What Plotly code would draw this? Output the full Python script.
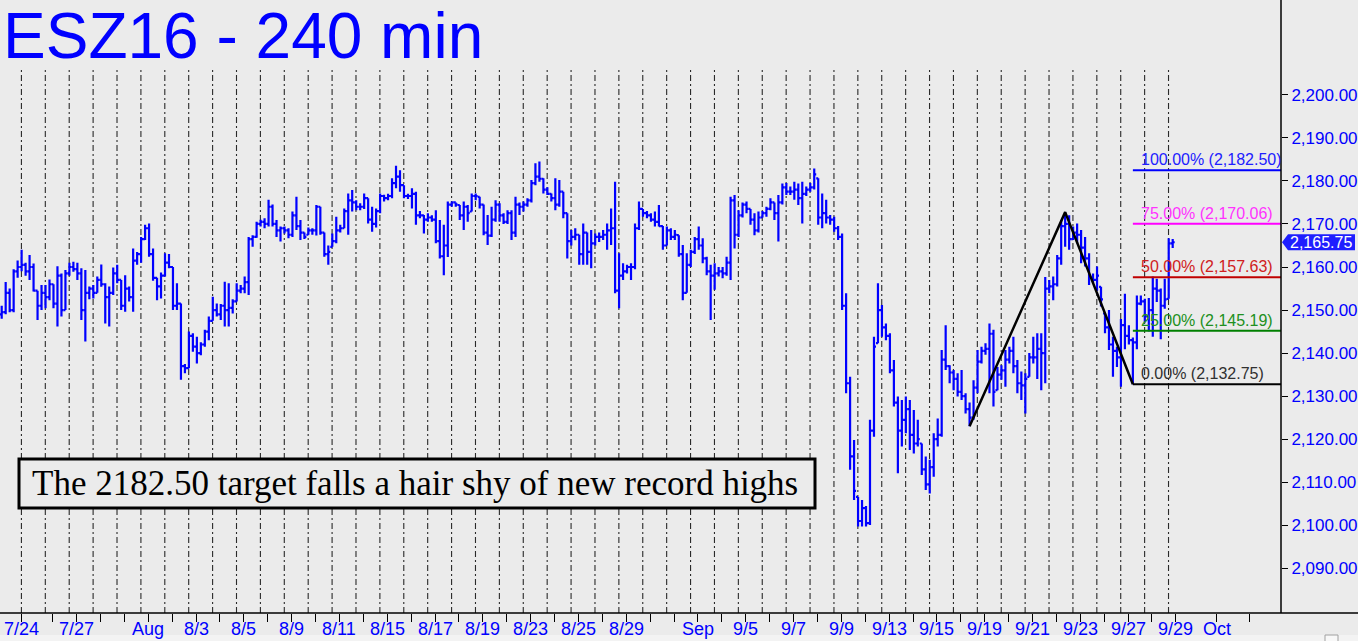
import plotly.graph_objects as go

# ---------------- data (240-min bars) ----------------
opens = [2149.0,2149.5,2154.0,2150.0,2159.0,2160.0,2160.5,2159.0,2160.0,2154.5,
2151.0,2154.0,2153.0,2156.0,2151.5,2158.0,2150.0,2158.5,2160.0,2159.5,
2158.5,2150.0,2154.0,2155.0,2154.0,2157.0,2156.0,2153.0,2154.0,2158.5,
2157.0,2151.0,2155.0,2153.0,2161.5,2163.0,2166.5,2169.0,2163.0,2157.5,
2155.5,2158.0,2161.0,2160.0,2151.0,2151.5,2137.0,2136.5,2144.0,2141.5,
2140.0,2142.0,2145.0,2147.5,2150.0,2149.0,2151.0,2150.0,2150.5,2152.0,
2154.5,2155.0,2156.5,2166.5,2167.0,2170.0,2170.5,2170.0,2174.0,2170.0,
2168.5,2169.0,2168.5,2167.5,2172.0,2169.5,2168.0,2167.5,2168.5,2168.5,
2174.0,2168.0,2163.0,2164.7,2166.0,2168.5,2169.0,2173.0,2175.5,2175.0,
2174.0,2174.0,2176.0,2171.0,2170.0,2173.0,2176.5,2176.0,2176.5,2179.5,
2181.0,2179.0,2176.5,2176.5,2177.0,2172.0,2172.0,2171.0,2171.5,2171.0,
2166.0,2162.5,2165.0,2174.5,2175.0,2174.4,2172.0,2174.0,2172.9,2176.5,
2176.3,2174.5,2168.0,2167.3,2171.0,2174.5,2172.0,2170.5,2172.5,2168.0,
2174.5,2174.0,2174.5,2175.5,2179.5,2181.0,2180.5,2178.0,2177.0,2176.0,
2174.5,2177.5,2172.5,2166.0,2167.0,2167.5,2163.0,2168.0,2163.5,2165.5,
2167.0,2167.0,2167.5,2168.5,2169.0,2154.5,2158.0,2159.0,2160.0,2160.0,
2169.0,2173.5,2172.5,2172.0,2171.0,2170.5,2169.5,2165.0,2168.5,2167.0,
2167.4,2163.0,2154.0,2160.5,2163.5,2166.5,2165.0,2162.0,2159.0,2158.0,
2158.5,2159.0,2158.5,2161.0,2175.5,2167.5,2172.0,2174.5,2173.5,2171.0,
2168.5,2171.5,2172.5,2173.5,2175.0,2172.5,2175.0,2178.5,2177.5,2177.5,
2178.0,2176.0,2177.0,2178.0,2178.5,2180.6,2171.5,2172.5,2171.5,2171.0,
2169.0,2167.0,2151.0,2133.0,2116.0,2106.6,2101.0,2104.0,2100.5,2122.0,
2142.3,2150.0,2146.0,2144.0,2136.0,2128.5,2122.0,2124.5,2127.0,2121.0,
2119.0,2119.0,2113.0,2109.5,2113.5,2120.0,2121.0,2138.5,2137.0,2135.5,
2134.0,2131.0,2130.0,2127.0,2125.0,2132.0,2138.0,2140.5,2141.0,2144.5,
2131.4,2135.0,2136.0,2138.5,2140.5,2137.0,2133.0,2132.5,2134.5,2139.0,
2139.0,2141.0,2140.0,2155.0,2155.5,2156.0,2162.0,2169.5,2170.0,2166.5,
2168.0,2167.5,2164.5,2162.0,2157.5,2157.0,2155.4,2149.2,2146.0,2142.0,
2140.5,2139.0,2146.5,2144.0,2143.0,2142.5,2151.5,2152.0,2148.5,2150.0,
2155.0,2154.5,2151.0,2152.6,2165.5]
highs = [2151.0,2156.5,2155.0,2159.5,2161.5,2164.0,2161.0,2162.8,2160.8,2154.5,
2155.8,2155.8,2157.1,2156.0,2160.2,2158.5,2159.3,2161.0,2161.2,2161.0,
2159.7,2159.3,2155.5,2155.8,2157.8,2160.6,2156.2,2155.5,2159.9,2160.5,
2157.0,2158.1,2155.5,2164.3,2163.5,2167.0,2169.8,2170.1,2164.3,2157.5,
2158.7,2163.2,2163.0,2160.0,2156.2,2151.5,2137.5,2145.0,2144.6,2143.8,
2142.5,2145.4,2148.5,2153.1,2151.5,2151.4,2156.6,2156.2,2152.5,2156.2,
2155.8,2157.8,2167.0,2167.4,2170.5,2171.0,2171.3,2175.6,2174.5,2170.9,
2169.4,2169.4,2169.0,2172.9,2176.3,2170.9,2168.0,2169.2,2169.0,2174.4,
2174.0,2168.0,2165.0,2167.8,2171.7,2169.8,2173.6,2177.1,2177.9,2175.5,
2174.8,2177.1,2176.0,2174.0,2173.6,2177.1,2176.8,2177.0,2180.6,2183.5,
2182.5,2179.0,2177.0,2178.3,2177.5,2173.0,2172.1,2172.5,2172.0,2173.2,
2170.9,2169.8,2175.2,2175.2,2175.0,2174.4,2175.2,2174.4,2177.1,2177.1,
2176.3,2174.5,2172.1,2174.0,2175.5,2174.8,2172.5,2173.2,2173.2,2176.3,
2175.0,2175.2,2176.0,2180.2,2184.1,2184.5,2180.6,2178.5,2177.1,2180.6,
2180.2,2177.5,2172.5,2168.6,2169.0,2167.5,2170.1,2168.0,2168.6,2167.8,
2168.0,2168.6,2170.1,2173.6,2179.8,2163.2,2160.9,2160.5,2160.9,2170.1,
2175.2,2173.5,2173.0,2172.5,2172.9,2174.4,2169.5,2169.4,2169.0,2168.6,
2167.4,2165.1,2163.2,2164.0,2167.0,2169.4,2166.7,2162.4,2160.5,2160.9,
2160.0,2160.0,2162.4,2176.3,2176.7,2173.2,2175.0,2175.2,2173.5,2172.5,
2172.9,2173.0,2174.0,2176.0,2175.0,2176.7,2179.4,2179.5,2178.7,2179.8,
2179.4,2179.8,2178.7,2179.5,2182.9,2180.6,2177.1,2175.6,2172.1,2171.7,
2169.5,2167.8,2153.9,2134.5,2119.8,2106.6,2105.9,2104.5,2124.5,2143.8,
2156.2,2151.2,2146.9,2144.6,2138.4,2129.9,2129.1,2129.9,2129.1,2126.8,
2124.5,2119.0,2116.0,2115.2,2121.4,2124.8,2140.7,2146.5,2137.2,2136.1,
2135.3,2136.1,2130.7,2128.5,2133.7,2140.7,2141.5,2142.3,2146.9,2145.4,
2136.8,2137.2,2140.7,2141.5,2143.8,2138.4,2135.7,2135.3,2140.0,2143.8,
2144.6,2144.6,2157.7,2157.0,2157.8,2162.8,2170.9,2172.75,2172.0,2169.4,
2170.1,2168.6,2167.0,2163.2,2158.5,2160.1,2155.4,2149.2,2150.0,2143.8,
2141.5,2147.9,2153.8,2146.5,2143.6,2153.4,2153.4,2152.6,2152.8,2157.8,
2157.3,2155.0,2157.3,2166.7,2166.5]
lows = [2148.0,2149.0,2149.5,2149.5,2157.5,2159.0,2158.0,2157.0,2154.3,2147.7,
2150.0,2150.4,2152.3,2150.4,2146.2,2148.5,2150.0,2158.0,2158.9,2157.0,
2147.7,2142.7,2152.5,2152.7,2154.0,2155.4,2146.9,2146.2,2153.5,2156.2,
2150.0,2149.6,2152.0,2149.6,2160.5,2161.0,2166.3,2162.4,2156.8,2152.3,
2152.7,2157.8,2159.7,2150.0,2150.0,2133.8,2135.3,2136.5,2140.3,2137.6,
2139.5,2141.5,2143.0,2147.5,2148.5,2147.7,2146.2,2146.2,2149.2,2152.0,
2153.9,2153.9,2153.5,2164.7,2166.8,2169.4,2169.0,2169.4,2169.4,2167.0,
2165.9,2167.8,2166.7,2167.0,2168.6,2166.3,2166.5,2167.5,2167.5,2167.3,
2167.5,2162.4,2160.5,2164.7,2165.5,2168.0,2169.0,2167.5,2172.9,2173.2,
2173.2,2173.5,2170.1,2168.2,2169.2,2172.5,2175.2,2175.5,2176.0,2178.3,
2177.5,2176.0,2175.8,2173.6,2169.8,2171.3,2167.8,2170.5,2170.5,2165.5,
2162.0,2158.1,2162.3,2174.0,2174.0,2170.9,2168.6,2170.5,2172.9,2175.5,
2173.6,2167.4,2165.1,2167.0,2170.5,2170.5,2170.0,2170.0,2166.3,2167.0,
2172.1,2172.9,2174.0,2175.0,2179.0,2179.8,2177.1,2176.7,2175.2,2173.2,
2174.0,2171.3,2162.0,2165.0,2166.2,2160.5,2160.5,2160.5,2159.7,2165.0,
2165.8,2166.3,2164.0,2165.1,2153.9,2150.4,2157.0,2158.5,2157.0,2159.5,
2168.6,2171.7,2171.3,2170.5,2169.4,2169.4,2164.0,2165.0,2166.3,2166.3,
2162.4,2152.3,2154.0,2160.0,2163.0,2164.0,2160.9,2158.1,2147.7,2154.7,
2157.8,2157.4,2158.0,2157.0,2164.3,2167.0,2171.5,2172.5,2169.8,2167.4,
2168.0,2171.5,2171.7,2173.2,2170.9,2165.9,2174.5,2176.7,2176.7,2175.6,
2174.4,2170.1,2176.5,2177.5,2178.0,2169.8,2169.0,2170.1,2169.8,2168.2,
2166.3,2150.0,2130.7,2112.9,2105.9,2099.7,2099.7,2099.7,2100.1,2120.6,
2142.3,2143.8,2143.0,2135.3,2127.6,2112.1,2118.3,2121.4,2117.5,2116.7,
2118.3,2111.7,2108.2,2107.4,2111.3,2118.3,2120.6,2136.1,2133.0,2131.4,
2129.9,2129.1,2126.0,2123.0,2124.5,2130.7,2137.6,2139.6,2130.7,2127.6,
2131.4,2133.8,2132.2,2137.6,2135.3,2130.7,2129.1,2126.0,2134.5,2137.6,
2134.0,2131.4,2133.0,2153.9,2152.3,2155.5,2160.5,2164.7,2164.0,2166.3,
2165.5,2160.9,2160.1,2155.8,2156.2,2154.5,2150.8,2144.6,2140.7,2134.5,
2136.8,2132.2,2140.9,2142.0,2132.75,2140.9,2151.1,2147.1,2145.0,2143.8,
2151.9,2143.2,2150.3,2152.6,2164.4]
closes = [2149.5,2154.0,2150.0,2159.0,2160.0,2160.5,2159.0,2160.0,2154.5,2151.0,
2154.0,2153.0,2156.0,2151.5,2158.0,2150.0,2158.5,2160.0,2159.5,2158.5,
2150.0,2154.0,2155.0,2154.0,2157.0,2156.0,2153.0,2154.0,2158.5,2157.0,
2151.0,2155.0,2153.0,2161.5,2163.0,2166.5,2169.0,2163.0,2157.5,2155.5,
2158.0,2161.0,2160.0,2151.0,2151.5,2137.0,2136.5,2144.0,2141.5,2140.0,
2142.0,2145.0,2147.5,2150.0,2149.0,2151.0,2150.0,2150.5,2152.0,2154.5,
2155.0,2156.5,2166.5,2167.0,2170.0,2170.5,2170.0,2174.0,2170.0,2168.5,
2169.0,2168.5,2167.5,2172.0,2169.5,2168.0,2167.0,2168.5,2168.5,2174.0,
2168.0,2163.0,2163.5,2166.0,2168.5,2169.0,2173.0,2175.5,2175.0,2174.0,
2174.0,2176.0,2171.0,2170.0,2173.0,2176.5,2176.0,2176.5,2179.5,2181.0,
2179.0,2176.5,2176.5,2177.0,2172.0,2172.0,2171.0,2171.5,2171.0,2166.0,
2162.5,2165.0,2174.5,2175.0,2174.5,2172.0,2174.0,2172.5,2176.5,2176.5,
2174.5,2168.0,2167.3,2171.0,2174.5,2172.0,2170.5,2172.5,2168.0,2174.5,
2174.0,2174.5,2175.5,2179.5,2181.0,2180.5,2178.0,2177.0,2176.0,2174.5,
2177.5,2172.5,2166.0,2167.0,2167.5,2163.0,2168.0,2163.5,2165.5,2167.0,
2167.0,2167.5,2168.5,2169.0,2154.5,2158.0,2159.0,2160.0,2160.0,2169.0,
2173.5,2172.5,2172.0,2171.0,2170.5,2169.5,2165.0,2168.5,2167.0,2167.5,
2163.0,2154.0,2160.5,2163.5,2166.5,2165.0,2162.0,2159.0,2158.0,2158.5,
2159.0,2158.5,2161.0,2175.5,2167.5,2172.0,2174.5,2173.5,2171.0,2168.5,
2171.5,2172.5,2173.5,2175.0,2172.5,2175.0,2178.5,2177.5,2177.5,2178.0,
2176.0,2177.0,2178.0,2178.5,2181.5,2171.5,2172.5,2171.5,2171.0,2169.0,
2167.0,2151.0,2133.0,2116.0,2108.0,2101.0,2104.0,2100.5,2122.0,2141.5,
2150.0,2146.0,2144.0,2136.0,2128.5,2122.0,2124.5,2127.0,2121.0,2119.0,
2120.0,2113.0,2109.5,2113.5,2120.0,2121.0,2138.5,2137.0,2135.5,2134.0,
2131.0,2130.0,2127.0,2125.0,2132.0,2138.0,2140.5,2141.0,2144.5,2131.0,
2135.0,2136.0,2138.5,2140.5,2137.0,2133.0,2132.5,2134.0,2139.0,2139.0,
2141.0,2140.0,2155.0,2155.5,2156.0,2162.0,2169.5,2170.0,2166.5,2168.0,
2167.5,2164.5,2162.0,2157.5,2157.0,2158.0,2152.5,2146.0,2142.0,2140.5,
2139.0,2146.5,2144.0,2143.0,2142.5,2151.5,2152.0,2148.5,2150.0,2155.0,
2154.5,2151.0,2152.5,2165.5,2165.75]

# day separators: index of first bar of each trading day
day_start_bars = [5 + 6 * k for k in range(49)]
# date ticks: one per trading day; '' = unlabeled tick
date_tick_days = list(range(49))
date_tick_text = ["7/24", "", "7/27", "", "", "Aug", "", "8/3", "", "8/5", "", "8/9", "", "8/11", "",
                  "8/15", "", "8/17", "", "8/19", "", "8/23", "", "8/25", "", "8/29", "", "", "Sep", "",
                  "9/5", "", "9/7", "", "9/9", "", "9/13", "", "9/15", "", "9/19", "", "9/21", "", "9/23",
                  "", "9/27", "", "9/29"]
extra_tick_bars = [305.1, 313.4]
extra_tick_text = ["Oct", ""]

# swing used for the projection
abc_bars = [243, 267, 284]
abc_prices = [2123.00, 2172.75, 2132.75]
fib_pcts = [100.0, 75.0, 50.0, 25.0, 0.0]
fib_values = [2182.50, 2170.06, 2157.63, 2145.19, 2132.75]
fib_line_colors = ["#0000FF", "#FF00FF", "#C00000", "#008000", "#000000"]
fib_text_colors = ["#2020FF", "#FF33FF", "#D02020", "#209020", "#303030"]
last_price = 2165.75

# ---------------- geometry ----------------
W, H = 1358, 641
PLOT_L, PLOT_R, PLOT_T, PLOT_B = 0, 1281, 68, 613
PX_BAR = 3.983
PX0 = 1.7
Y_TOP, Y_BOT = 2206.23, 2079.63
BG = "#EBEBEB"
BLUE = "#0000FF"

def xb(px):
    return (px - PX0) / PX_BAR

def paper_x(px):
    return (px - PLOT_L) / (PLOT_R - PLOT_L)

def paper_y(py):
    return (PLOT_B - py) / (PLOT_B - PLOT_T)

fig = go.Figure()
fig.add_trace(go.Ohlc(
    x=list(range(len(closes))), open=opens, high=highs, low=lows, close=closes,
    increasing=dict(line=dict(color=BLUE, width=2.2)),
    decreasing=dict(line=dict(color=BLUE, width=2.2)),
    tickwidth=0.5, hoverinfo="skip", showlegend=False))

fig.add_trace(go.Scatter(x=abc_bars, y=abc_prices, mode="lines",
                         line=dict(color="black", width=2.5), hoverinfo="skip", showlegend=False))

shapes = []
for b in day_start_bars:
    shapes.append(dict(type="line", xref="x", yref="paper", x0=b - 0.05, x1=b - 0.05, y0=0, y1=1,
                       line=dict(color="#2A2A2A", width=1.1, dash="6px,3px,2px,3px"), layer="below"))
for val, col in zip(fib_values, fib_line_colors):
    shapes.append(dict(type="line", xref="x", yref="y", x0=abc_bars[2], x1=xb(PLOT_R), y0=val, y1=val,
                       line=dict(color=col, width=2)))
# axis frame lines
shapes.append(dict(type="line", xref="paper", yref="paper", x0=1, x1=1, y0=0, y1=paper_y(0),
                   line=dict(color="black", width=1.5)))
shapes.append(dict(type="line", xref="paper", yref="paper", x0=0, x1=paper_x(W), y0=0, y1=0,
                   line=dict(color="black", width=1.5)))
# bottom strip with small box (window chrome of the original chart)
shapes.append(dict(type="rect", xref="paper", yref="paper", x0=0, x1=paper_x(W), y0=paper_y(H),
                   y1=paper_y(635), fillcolor="#F3F3F3", line=dict(width=0)))
shapes.append(dict(type="rect", xref="paper", yref="paper", x0=paper_x(1325), x1=paper_x(1338),
                   y0=paper_y(H + 2), y1=paper_y(635), fillcolor="#F8F8F8",
                   line=dict(color="#A0A0A0", width=1)))
# comment box
shapes.append(dict(type="rect", xref="paper", yref="paper", x0=paper_x(19), x1=paper_x(815),
                   y0=paper_y(508), y1=paper_y(459), fillcolor=BG, line=dict(color="black", width=3)))
# last price marker
ly = PLOT_B - (last_price - Y_BOT) / (Y_TOP - Y_BOT) * (PLOT_B - PLOT_T)
shapes.append(dict(type="path", xref="paper", yref="paper",
                   path="M {} {} L {} {} L {} {} L {} {} L {} {} Z".format(
                       paper_x(1282), paper_y(ly), paper_x(1288), paper_y(ly - 8),
                       paper_x(1355), paper_y(ly - 8), paper_x(1355), paper_y(ly + 8),
                       paper_x(1288), paper_y(ly + 8)),
                   fillcolor="#1E1EFF", line=dict(width=0)))

annotations = []
annotations.append(dict(text="ESZ16 - 240 min", xref="paper", yref="paper", x=paper_x(1), y=paper_y(36),
                        xanchor="left", yanchor="middle", showarrow=False,
                        font=dict(family="Liberation Sans, Arial, sans-serif", size=64, color=BLUE)))
for pct, val, tcol in zip(fib_pcts, fib_values, fib_text_colors):
    annotations.append(dict(text="{:.2f}% ({:,.2f})".format(pct, val), xref="paper", yref="y",
                            x=paper_x(1139), y=val, xanchor="left", yanchor="bottom", yshift=0,
                            showarrow=False,
                            font=dict(family="Liberation Sans, Arial, sans-serif", size=16, color=tcol)))
annotations.append(dict(text="{:,.2f}".format(last_price), xref="paper", yref="paper",
                        x=paper_x(1321), y=paper_y(ly), xanchor="center", yanchor="middle",
                        showarrow=False,
                        font=dict(family="Liberation Sans, Arial, sans-serif", size=16, color="white")))
annotations.append(dict(text="The 2182.50 target falls a hair shy of new record highs",
                        xref="paper", yref="paper", x=paper_x(415), y=paper_y(483.5),
                        xanchor="center", yanchor="middle", showarrow=False,
                        font=dict(family="Liberation Serif, Times New Roman, serif", size=35, color="black")))

tickvals = []
ticktext = []
for d, t in zip(date_tick_days, date_tick_text):
    if d == 0:
        tickvals.append(day_start_bars[0] - 0.1)
    else:
        tickvals.append(day_start_bars[d] + 1.8)
    ticktext.append(t)
tickvals += extra_tick_bars
ticktext += extra_tick_text

# date labels drawn just under the tick marks
for v, t in zip(tickvals, ticktext):
    if t:
        annotations.append(dict(text=t, xref="x", yref="paper", x=v, y=paper_y(629),
                                xanchor="center", yanchor="middle", showarrow=False,
                                font=dict(family="Liberation Sans Narrow, Arial Narrow, Liberation Sans, sans-serif",
                                          size=18, color=BLUE)))

fig.update_layout(
    width=W, height=H, paper_bgcolor=BG, plot_bgcolor=BG,
    margin=dict(l=PLOT_L, r=W - PLOT_R, t=PLOT_T, b=H - PLOT_B, autoexpand=False),
    shapes=shapes, annotations=annotations, hovermode=False,
    xaxis=dict(range=[xb(PLOT_L), xb(PLOT_R)], showgrid=False, zeroline=False, showline=False,
               tickmode="array", tickvals=tickvals, ticktext=ticktext, automargin=False,
               showticklabels=False,
               ticks="outside", ticklen=8, tickcolor="black", tickwidth=1,
               rangeslider=dict(visible=False), fixedrange=True),
    yaxis=dict(range=[Y_BOT, Y_TOP], side="right", showgrid=False, zeroline=False, showline=False,
               tickmode="array", tickvals=[2090 + 10 * i for i in range(12)], automargin=False,
               tickformat=",.2f", ticks="outside", ticklen=6, tickcolor="black", tickwidth=1,
               tickfont=dict(family="Liberation Sans, Arial, sans-serif", size=17, color=BLUE),
               fixedrange=True),
)

fig.write_html("out.html", config={"displayModeBar": False, "staticPlot": True},
               post_script="document.body.style.margin='0';document.body.style.padding='0';"
                           "document.body.style.background='#EBEBEB';")
